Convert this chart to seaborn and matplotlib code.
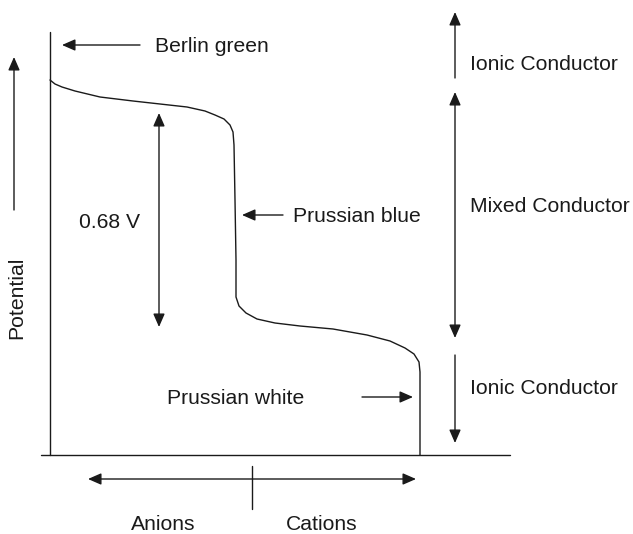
import matplotlib
matplotlib.use("Agg")
import matplotlib.pyplot as plt
import seaborn as sns

# curve (pixel units, y grows downward)
charge = [50, 55, 62, 75, 100, 133, 160, 187, 205, 215, 224, 230, 233, 234, 235,
          236, 236, 239, 246, 257, 275, 300, 333, 367, 390, 405, 414, 419, 420, 420]
potential = [80, 84, 87, 91, 97, 101, 104, 107, 111, 115, 119, 125, 132, 145, 200,
             260, 297, 306, 313, 319, 323, 326, 329, 335, 341, 348, 354, 362, 372, 455]

region_labels = ["Ionic Conductor", "Mixed Conductor", "Ionic Conductor"]
region_spans = [(78, 12), (92, 338), (355, 443)]
region_text_y = [65, 207, 388]

phase_labels = ["Berlin green", "Prussian blue", "Prussian white"]
ion_labels = ["Anions", "Cations"]
gap_label = "0.68 V"

sns.set_theme(style="white")
plt.rcParams["font.family"] = ["Liberation Sans", "DejaVu Sans"]

INK = "#1a1a1a"
FS = 15.2

fig = plt.figure(figsize=(6.33, 5.34), dpi=100)
ax = fig.add_axes([0, 0, 1, 1])
ax.set_xlim(0, 633)
ax.set_ylim(534, 0)
ax.axis("off")

sns.lineplot(x=charge, y=potential, sort=False, estimator=None,
             color=INK, linewidth=1.0, ax=ax)

# frame of the diagram
ax.plot([50, 50], [32, 455], color=INK, lw=1.0)
ax.plot([41, 510], [455, 455], color=INK, lw=1.0)

one = dict(arrowstyle="-|>,head_length=0.8,head_width=0.35", color=INK,
           lw=1.0, shrinkA=0, shrinkB=0, mutation_scale=10)
two = dict(arrowstyle="<|-|>,head_length=0.8,head_width=0.35", color=INK,
           lw=1.0, shrinkA=0, shrinkB=0, mutation_scale=10)

def arrow(x0, y0, x1, y1, props=one):
    ax.annotate("", xy=(x1, y1), xytext=(x0, y0), arrowprops=props)

# potential axis
arrow(14, 210, 14, 57)
ax.text(17, 298, "Potential", rotation=90, ha="center", va="center",
        fontsize=FS, color=INK)

# phase labels
arrow(140, 45, 62, 45)
ax.text(155, 46, phase_labels[0], ha="left", va="center", fontsize=FS, color=INK)
arrow(283, 215, 242, 215)
ax.text(293, 216, phase_labels[1], ha="left", va="center", fontsize=FS, color=INK)
arrow(362, 397, 413, 397)
ax.text(167, 398, phase_labels[2], ha="left", va="center", fontsize=FS, color=INK)

# 0.68 V gap
arrow(159, 113, 159, 327, two)
ax.text(79, 222, gap_label, ha="left", va="center", fontsize=FS, color=INK)

# conduction regions
arrow(455, region_spans[0][0], 455, region_spans[0][1])
arrow(455, region_spans[1][0], 455, region_spans[1][1], two)
arrow(455, region_spans[2][0], 455, region_spans[2][1])
for lab, ty in zip(region_labels, region_text_y):
    ax.text(470, ty, lab, ha="left", va="center", fontsize=FS, color=INK)

# ions
arrow(88, 479, 416, 479, two)
ax.plot([252, 252], [466, 509], color=INK, lw=1.0)
ax.text(163, 524, ion_labels[0], ha="center", va="center", fontsize=FS, color=INK)
ax.text(322, 524, ion_labels[1], ha="center", va="center", fontsize=FS, color=INK)

fig.savefig("out.png", dpi=100, facecolor="white")
